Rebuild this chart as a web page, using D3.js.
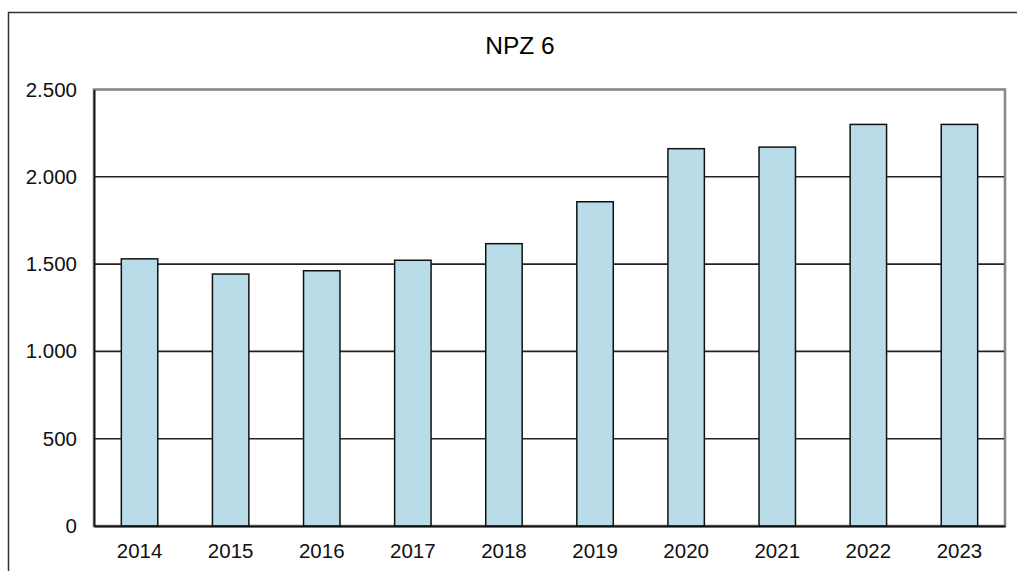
<!DOCTYPE html>
<html>
<head>
<meta charset="utf-8">
<script src="https://cdn.jsdelivr.net/npm/d3@7"></script>
<style>
  body { margin: 0; background: #fff; }
  svg { display: block; font-family: "Liberation Sans", Arial, sans-serif; }
</style>
</head>
<body>
<svg id="chart" width="1017" height="571"></svg>
<script>
// data
const years = ['2014', '2015', '2016', '2017', '2018', '2019', '2020', '2021', '2022', '2023'];
const values = [1530, 1443, 1462, 1522, 1617, 1857, 2161, 2170, 2300, 2300];
const yTicks = [0, 500, 1000, 1500, 2000, 2500];
const chartTitle = 'NPZ 6';

const svg = d3.select('#chart');

// plot area
const plotLeft = 94, plotRight = 1005, plotTop = 89.5, plotBottom = 526;

var x = d3.scaleBand()
    .domain(years)
    .range([plotLeft, plotRight])
    .paddingInner(0.6)
    .paddingOuter(0.3);

var y = d3.scaleLinear()
    .domain([0, 2500])
    .range([plotBottom, plotTop]);

// outer frame, cut off on right and bottom
svg.append('rect')
    .attr('x', 8.5).attr('y', 12.5)
    .attr('width', 1100).attr('height', 700)
    .attr('fill', 'none')
    .attr('stroke', '#333')
    .attr('stroke-width', 1.5);

// title
svg.append('text')
    .attr('x', 520).attr('y', 54)
    .attr('text-anchor', 'middle')
    .attr('font-size', 24.5)
    .text(chartTitle);

// plot border (grey, excel style)
svg.append('rect')
    .attr('x', plotLeft).attr('y', plotTop)
    .attr('width', plotRight - plotLeft).attr('height', plotBottom - plotTop)
    .attr('fill', 'none')
    .attr('stroke', '#888')
    .attr('stroke-width', 2.6);

// gridlines
svg.append('g')
    .selectAll('line')
    .data(yTicks.filter(d => d > 0 && d < 2500))
    .enter().append('line')
    .attr('x1', plotLeft).attr('x2', plotRight - 1)
    .attr('y1', d => y(d)).attr('y2', d => y(d))
    .attr('stroke', '#222')
    .attr('stroke-width', 1.6);

// bars
svg.append('g')
    .selectAll('rect')
    .data(values)
    .enter().append('rect')
    .attr('x', (d, i) => x(years[i]))
    .attr('y', d => y(d))
    .attr('width', x.bandwidth())
    .attr('height', d => plotBottom - y(d))
    .attr('fill', '#b8dde8')
    .attr('stroke', '#111')
    .attr('stroke-width', 1.5);

// y axis
var yAxis = svg.append('g')
    .attr('transform', 'translate(' + plotLeft + ',0)')
    .call(d3.axisLeft(y).tickValues(yTicks).tickSize(0).tickPadding(17)
        .tickFormat(d => d3.format(',')(d).replace(/,/g, '.')));
yAxis.select('.domain').attr('stroke', '#111').attr('stroke-width', 1.8);
yAxis.selectAll('text').attr('font-size', 20.5).attr('fill', '#111')
    .attr('font-family', '"Liberation Sans", Arial, sans-serif');

// x axis
var xAxis = svg.append('g')
    .attr('transform', 'translate(0,' + plotBottom + ')')
    .call(d3.axisBottom(x).tickSize(0).tickPadding(17));
xAxis.select('.domain').attr('stroke', '#111').attr('stroke-width', 1.8);
xAxis.selectAll('text').attr('font-size', 20.5).attr('fill', '#111')
    .attr('font-family', '"Liberation Sans", Arial, sans-serif');
</script>
</body>
</html>
